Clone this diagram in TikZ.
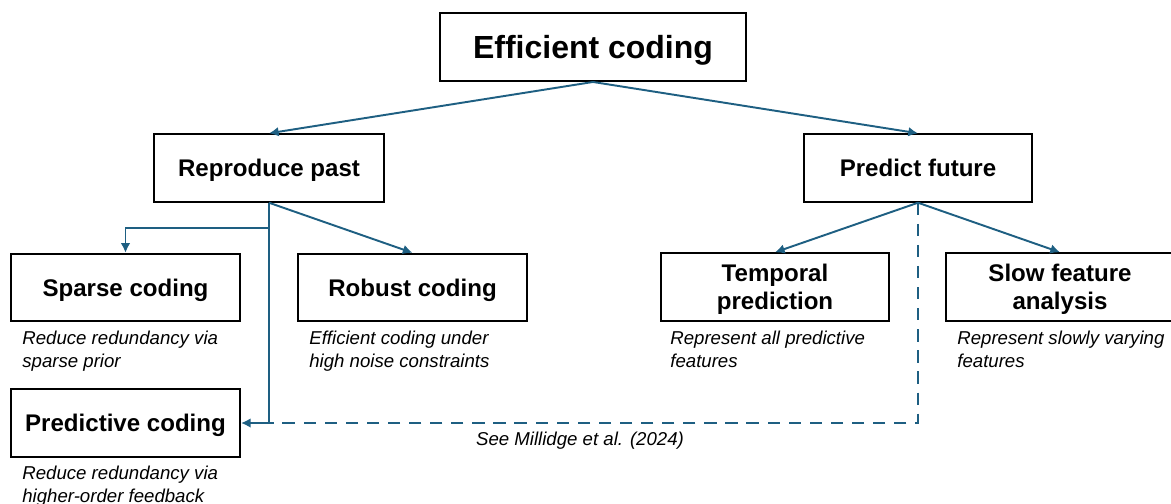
\documentclass[tikz,border=0pt]{standalone}
\usepackage{fontspec}
\setmainfont{Liberation Sans}
\usepackage{tikz}
\usetikzlibrary{arrows.meta,positioning,calc}
\definecolor{linkblue}{RGB}{30,95,130}

\begin{document}
\begin{tikzpicture}[
  every node/.style={font=\fontsize{13.7}{16}\selectfont\bfseries},
  box/.style={draw=black, line width=1.1pt, align=center, inner sep=0pt,
    text depth=0pt, minimum width=4.58cm, minimum height=1.35cm},
  note/.style={font=\fontsize{10.6}{12.6}\selectfont\itshape, align=left,
    anchor=north west, inner sep=0pt},
  link/.style={-{Latex[length=5.5pt,width=5.5pt]}, linkblue, line width=1.1pt}
]
\useasboundingbox (0,0) rectangle (23.42,-10.06);

\node[box, minimum width=6.12cm, minimum height=1.36cm,
  font=\fontsize{18.2}{20}\selectfont\bfseries] (eff) at (11.86,-0.94) {Efficient coding};
\node[box, minimum width=4.6cm] (past) at (5.38,-3.36) {Reproduce past};
\node[box, minimum width=4.56cm] (future) at (18.36,-3.36) {Predict future};

\node[box] (sparse) at (2.51,-5.75) {Sparse coding};
\node[box] (robust) at (8.25,-5.75) {Robust coding};
\node[box, minimum width=4.56cm] (temporal) at (15.5,-5.74) {Temporal\\prediction};
\node[box, minimum width=4.56cm] (slow) at (21.2,-5.74) {Slow feature\\analysis};
\node[box] (predictive) at (2.51,-8.46) {Predictive coding};

\node[note] (sparsenote) at (0.44,-6.62) {Reduce redundancy via\\sparse prior};
\node[note] (robustnote) at (6.18,-6.62) {Efficient coding under\\high noise constraints};
\node[note] (temporalnote) at (13.4,-6.62) {Represent all predictive\\features};
\node[note] (slownote) at (19.14,-6.62) {Represent slowly varying\\features};
\node[note] (prednote) at (0.44,-9.32) {Reduce redundancy via\\higher-order feedback};
\node[note, anchor=center] (cite) at (11.6,-8.82) {See Millidge et al. (2024)};

\coordinate (split) at ($(past.south)+(0,-0.5)$);
\coordinate (join) at (past.south |- predictive.east);
\coordinate (turn) at (future.south |- predictive.east);

\draw[link] (eff.south) -- (past.north);
\draw[link] (eff.south) -- (future.north);
\draw[link] (past.south) -- (robust.north);
\draw[link] (split) -| (sparse.north);
\draw[link] (past.south) -- (join) -- (predictive.east);
\draw[link] (future.south) -- (temporal.north);
\draw[link] (future.south) -- (slow.north);
\draw[linkblue, line width=1.1pt, dash pattern=on 7pt off 5pt] (future.south) -- (turn) -- (join);
\end{tikzpicture}
\end{document}
